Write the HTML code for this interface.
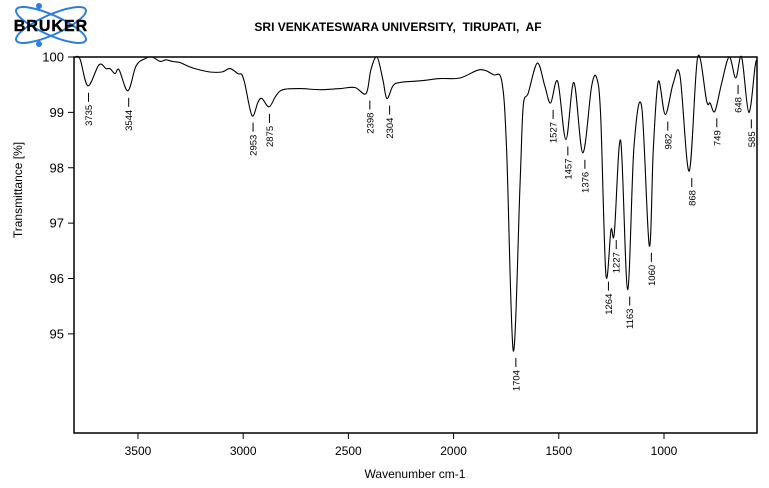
<!DOCTYPE html>
<html><head><meta charset="utf-8"><style>
html,body{margin:0;padding:0;background:#fff;}
svg{display:block;font-family:"Liberation Sans",sans-serif;}
</style></head><body>
<svg id="chart" width="769" height="488">
  <g>
    <ellipse cx="51" cy="25" rx="38" ry="10" transform="rotate(24 51 25)" fill="none" stroke="#2a7de1" stroke-width="2"/>
    <ellipse cx="51" cy="25" rx="38" ry="10" transform="rotate(-24 51 25)" fill="none" stroke="#2a7de1" stroke-width="2"/>
    <circle cx="39" cy="6" r="3" fill="#2a7de1"/><circle cx="39" cy="44" r="3" fill="#2a7de1"/>
    <text x="51" y="31" text-anchor="middle" font-size="16" font-weight="bold" fill="#000" letter-spacing="1" stroke="#000" stroke-width="0.4">BRUKER</text>
  </g>
  <text x="398" y="31" text-anchor="middle" font-size="12" font-weight="bold" xml:space="preserve">SRI VENKATESWARA UNIVERSITY,&#160; TIRUPATI,&#160; AF</text>
  <rect x="74" y="57" width="683" height="376" fill="none" stroke="#000" stroke-width="1.5"/>
  <g id="xaxis"></g>
  <g id="yaxis"></g>
  <text x="415" y="478" text-anchor="middle" font-size="12">Wavenumber cm-1</text>
  <text transform="translate(22 190) rotate(-90)" text-anchor="middle" font-size="12">Transmittance [%]</text>
  <g id="series"></g>
  <g id="peaks"></g>
</svg>
<script>
const wavenumbers=[3804,3776,3738,3685,3652,3633,3609,3590,3548,3509,3467,3433,3395,3367,3338,3300,3277,3229,3158,3101,3063,3025,3006,2991,2958,2930,2911,2877,2844,2811,2730,2635,2540,2469,2416,2393,2364,2336,2317,2288,2255,2160,2065,1970,1875,1811,1771,1748,1716,1684,1669,1645,1602,1566,1539,1505,1466,1428,1386,1344,1320,1301,1276,1252,1236,1206,1173,1143,1106,1070,1051,1027,994,956,924,880,840,797,781,758,726,690,659,631,597,567,558];
const transmittance=[99.99,99.97,99.48,99.86,99.79,99.79,99.70,99.77,99.39,99.84,99.97,100.0,99.92,99.95,99.92,99.90,99.86,99.79,99.73,99.73,99.79,99.70,99.68,99.50,98.94,99.18,99.25,99.10,99.30,99.41,99.43,99.41,99.43,99.45,99.34,99.77,100.0,99.59,99.25,99.48,99.54,99.57,99.61,99.62,99.77,99.68,99.56,98.33,94.69,97.73,99.11,99.35,99.89,99.47,99.17,99.56,98.51,99.54,98.27,99.47,99.62,98.93,96.07,96.88,96.82,98.49,95.80,98.36,99.10,96.59,98.33,99.56,98.96,99.53,99.66,97.94,100.0,99.20,99.17,99.02,99.53,100.0,99.62,100.0,99.0,99.83,99.95];
const peakLabels=[3735,3544,2953,2875,2398,2304,1704,1527,1457,1376,1264,1227,1163,1060,982,868,749,648,585];
const peakValues=[99.48,99.39,98.94,99.10,99.34,99.25,94.69,99.17,98.51,98.27,96.07,96.82,95.80,96.59,98.96,97.94,99.02,99.62,99.0];
const xTicks=[3500,3000,2500,2000,1500,1000];
const yTicks=[100,99,98,97,96,95];

const NS="http://www.w3.org/2000/svg";
const X0=74,X1=757,Y0=57,Y1=433,WMAX=3804,WMIN=558,TMAX=100,TMIN=93.21;
function xs(w){return X0+(WMAX-w)/(WMAX-WMIN)*(X1-X0);}
function ys(t){return Y0+(TMAX-t)/(TMAX-TMIN)*(Y1-Y0);}
function mk(tag,attrs,parent){const e=document.createElementNS(NS,tag);for(const k in attrs)e.setAttribute(k,attrs[k]);parent.appendChild(e);return e;}

const xa=document.getElementById('xaxis');
xTicks.forEach(v=>{
  const l=mk('line',{x1:xs(v),x2:xs(v),y1:Y1,y2:Y1+6,stroke:'#000','stroke-width':1},xa);
  
  
  const t=mk('text',{x:xs(v),y:Y1+22,'text-anchor':'middle','font-size':12},xa);
  t.textContent=v;
  
  
});
const ya=document.getElementById('yaxis');
yTicks.forEach(v=>{
  const l=mk('line',{x1:X0-6,x2:X0,y1:ys(v),y2:ys(v),stroke:'#000','stroke-width':1},ya);
  
  
  const t=mk('text',{x:X0-10,y:ys(v)+4.5,'text-anchor':'end','font-size':13},ya);
  t.textContent=v;
  
  
});

const pts=wavenumbers.map((w,i)=>[xs(w),ys(transmittance[i])]);
let d='M'+pts[0][0].toFixed(1)+' '+pts[0][1].toFixed(1);
for(let i=0;i<pts.length-1;i++){
  const p0=pts[Math.max(0,i-1)],p1=pts[i],p2=pts[i+1],p3=pts[Math.min(pts.length-1,i+2)];
  const c1=[p1[0]+(p2[0]-p0[0])/6,p1[1]+(p2[1]-p0[1])/6];
  const c2=[p2[0]-(p3[0]-p1[0])/6,p2[1]-(p3[1]-p1[1])/6];
  d+=` C${c1[0].toFixed(1)} ${c1[1].toFixed(1)} ${c2[0].toFixed(1)} ${c2[1].toFixed(1)} ${p2[0].toFixed(1)} ${p2[1].toFixed(1)}`;
}
const path=mk('path',{d:d,fill:'none',stroke:'#000','stroke-width':1.1},document.getElementById('series'));



const pk=document.getElementById('peaks');
peakLabels.forEach((w,i)=>{
  const x=xs(w),y=ys(peakValues[i]);
  const l=mk('line',{x1:x,x2:x,y1:y+7,y2:y+16,stroke:'#000','stroke-width':1},pk);
  
  
  const t=mk('text',{transform:`translate(${x+3.5} ${y+19}) rotate(-90)`,'text-anchor':'end','font-size':9.5},pk);
  t.textContent=w;
  
  
});
</script>
</body></html>
